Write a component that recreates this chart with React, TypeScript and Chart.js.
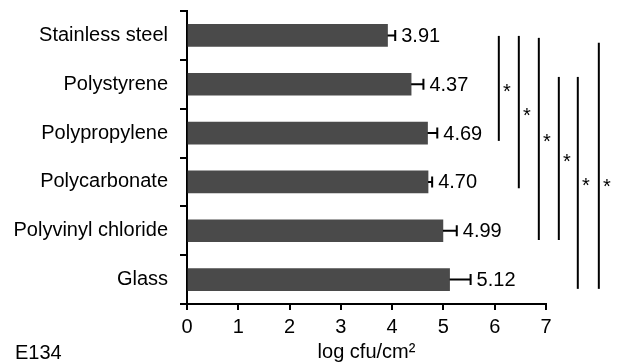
import React, { useEffect, useRef } from "react";
import { Chart, registerables } from "chart.js";

Chart.register(...registerables);

const categories = [
  "Stainless steel",
  "Polystyrene",
  "Polypropylene",
  "Polycarbonate",
  "Polyvinyl chloride",
  "Glass",
];
const means = [3.91, 4.37, 4.69, 4.7, 4.99, 5.12];
const errors = [0.15, 0.24, 0.19, 0.08, 0.27, 0.41];
const valueLabels = ["3.91", "4.37", "4.69", "4.70", "4.99", "5.12"];
const xTickValues = [0, 1, 2, 3, 4, 5, 6, 7];
const xTitle = "log cfu/cm\u00B2";
const panelLabel = "E134";

// significance brackets: x position (data units) and vertical span in category units
const sigX = [6.08, 6.47, 6.86, 7.25, 7.62, 8.03];
const sigSpans = [
  [0.01, 2.16],
  [0.01, 3.13],
  [0.05, 4.19],
  [0.85, 4.19],
  [0.85, 5.19],
  [0.15, 5.19],
];
const sigStarFrac = [0.5, 0.5, 0.5, 0.5, 0.5, 0.57];
const sigLabel = "*";

const FONT = "'Liberation Sans', Arial, sans-serif";

const overlayPlugin = {
  id: "overlay",
  afterDatasetsDraw(chart: any) {
    const ctx = chart.ctx;
    const xs = chart.scales.x;
    const ys = chart.scales.y;
    const meta = chart.getDatasetMeta(0);
    ctx.save();
    ctx.strokeStyle = "#000";
    ctx.fillStyle = "#000";
    ctx.lineWidth = 2;
    ctx.font = `20px ${FONT}`;
    ctx.textBaseline = "middle";
    ctx.textAlign = "left";
    means.forEach((m, i) => {
      const y = meta.data[i].y;
      const x0 = xs.getPixelForValue(m);
      const x1 = xs.getPixelForValue(m + errors[i]);
      ctx.beginPath();
      ctx.moveTo(x0, y);
      ctx.lineTo(x1, y);
      ctx.moveTo(x1, y - 5.5);
      ctx.lineTo(x1, y + 5.5);
      ctx.stroke();
      ctx.fillText(valueLabels[i], x1 + 6, y + 1);
    });
    sigX.forEach((sx, i) => {
      const x = xs.getPixelForValue(sx);
      const yTop = ys.getPixelForValue(sigSpans[i][0]);
      const yBot = ys.getPixelForValue(sigSpans[i][1]);
      ctx.beginPath();
      ctx.moveTo(x, yTop);
      ctx.lineTo(x, yBot);
      ctx.stroke();
      ctx.textAlign = "center";
      ctx.fillText(sigLabel, x + 8, yTop + (yBot - yTop) * sigStarFrac[i] + 4);
    });
    ctx.textAlign = "left";
    ctx.textBaseline = "alphabetic";
    ctx.fillText(panelLabel, 15, 359);
    ctx.restore();
  },
};

export default function App() {
  const ref = useRef<HTMLCanvasElement | null>(null);
  useEffect(() => {
    if (!ref.current) return;
    const chart = new Chart(ref.current, {
      type: "bar",
      data: {
        labels: categories,
        datasets: [
          {
            data: means,
            backgroundColor: "#4a4a4a",
            borderWidth: 0,
            barThickness: 22,
          },
        ],
      },
      options: {
        indexAxis: "y",
        responsive: false,
        animation: false,
        layout: { padding: { top: 11, right: 72, left: 0, bottom: 0 } },
        plugins: { legend: { display: false }, tooltip: { enabled: false } },
        scales: {
          y: {
            type: "category",
            offset: true,
            grid: {
              display: true,
              drawOnChartArea: false,
              offset: true,
              tickLength: 7,
              lineWidth: 2,
              color: "#000",
            },
            border: { display: true, width: 2, color: "#000" },
            ticks: {
              color: "#000",
              font: { family: FONT, size: 20 },
              padding: 12,
              autoSkip: false,
            },
            afterFit: (s: any) => {
              s.width = 187;
              s.paddingTop = 0;
              s.paddingBottom = 0;
            },
          },
          x: {
            type: "linear",
            min: 0,
            max: 7,
            afterBuildTicks: (s: any) => {
              s.ticks = xTickValues.map((v) => ({ value: v }));
            },
            ticks: {
              color: "#000",
              font: { family: FONT, size: 20 },
              padding: 5,
              autoSkip: false,
              maxRotation: 0,
            },
            grid: {
              display: true,
              drawOnChartArea: false,
              tickLength: 6,
              lineWidth: 2,
              color: "#000",
            },
            border: { display: true, width: 2, color: "#000" },
            title: {
              display: true,
              text: xTitle,
              color: "#000",
              font: { family: FONT, size: 20 },
              padding: { top: 0, bottom: 0 },
            },
            afterFit: (s: any) => {
              s.height = 60;
              s.paddingLeft = 0;
              s.paddingRight = 0;
            },
          },
        },
      } as any,
      plugins: [overlayPlugin],
    });
    return () => chart.destroy();
  }, []);
  return (
    <div style={{ position: "absolute", left: 0, top: 0, width: 618, height: 364, background: "#fff" }}>
      <canvas ref={ref} width={618} height={364} style={{ display: "block" }} />
    </div>
  );
}
